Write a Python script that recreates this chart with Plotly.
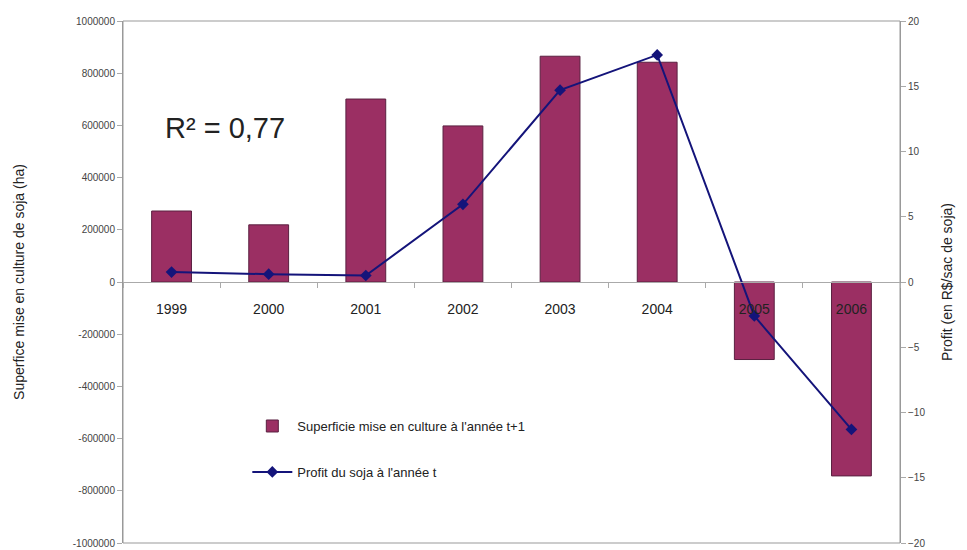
import plotly.graph_objects as go

years = ["1999", "2000", "2001", "2002", "2003", "2004", "2005", "2006"]
superficie = [272000, 219000, 701000, 598000, 865000, 842000, -297000, -743000]
profit = [0.76, 0.6, 0.5, 5.95, 14.7, 17.4, -2.6, -11.3]
left_ticks = list(range(-1000000, 1000001, 200000))
right_ticks = list(range(-20, 21, 5))

FONT = "Liberation Sans, Arial, sans-serif"

fig = go.Figure()
fig.add_trace(go.Bar(
    x=years, y=superficie, name="Superficie mise en culture à l'année t+1",
    marker=dict(color="#9B2F63", line=dict(color="#5a2040", width=1)),
    yaxis="y", legendgroup="a",
))
fig.add_trace(go.Scatter(
    x=years, y=profit, name="Profit du soja à l'année t",
    mode="lines+markers", line=dict(color="#14147a", width=2),
    marker=dict(symbol="diamond", size=9, color="#14147a"),
    yaxis="y2", legendgroup="b",
))

fig.update_layout(
    width=959, height=542,
    margin=dict(l=115, r=67, t=13, b=7, autoexpand=False),
    paper_bgcolor="white", plot_bgcolor="white",
    font=dict(family=FONT, color="#222"),
    bargap=0.59,
    showlegend=True,
    legend=dict(x=0.16, y=0.18, xanchor="left", yanchor="middle",
                traceorder="grouped",
                bgcolor="rgba(0,0,0,0)", font=dict(size=13, color="#222"),
                tracegroupgap=26, itemwidth=40),
    xaxis=dict(
        type="category", anchor="free", position=0.5,
        showline=True, linecolor="#aaa", linewidth=1,
        ticks="outside", tickson="boundaries", ticklen=5, tickcolor="#aaa",
        ticklabelstandoff=14,
        tickfont=dict(size=14, color="#222"), showgrid=False, automargin=False,
    ),
    yaxis=dict(
        range=[-1000000, 1000000], tickvals=left_ticks,
        ticktext=[str(v) for v in left_ticks],
        tickfont=dict(size=10, color="#444"), ticklabeloverflow="allow",
        showgrid=False, zeroline=False, automargin=False,
        showline=True, linecolor="#999", linewidth=1,
        ticks="outside", ticklen=5, tickcolor="#aaa",
        title=dict(text="Superfice mise en culture de soja (ha)",
                   font=dict(size=14, color="#222"), standoff=44),
    ),
    yaxis2=dict(
        range=[-20, 20], tickvals=right_ticks, overlaying="y", side="right",
        tickfont=dict(size=10, color="#444"), ticklabeloverflow="allow",
        showgrid=False, zeroline=False, automargin=False,
        showline=True, linecolor="#999", linewidth=1,
        ticks="outside", ticklen=5, tickcolor="#aaa",
        title=dict(text="Profit (en R$/sac de soja)",
                   font=dict(size=14, color="#222"), standoff=17),
    ),
    shapes=[
        dict(type="rect", xref="paper", yref="paper", x0=0, x1=1, y0=0, y1=1,
             line=dict(color="#999", width=1), layer="below"),
    ],
    annotations=[
        dict(text="R² = 0,77", xref="paper", yref="paper", x=0.052, y=0.795,
             xanchor="left", yanchor="middle", showarrow=False,
             font=dict(size=29, color="#222")),
    ],
)

fig.write_html("out.html")
